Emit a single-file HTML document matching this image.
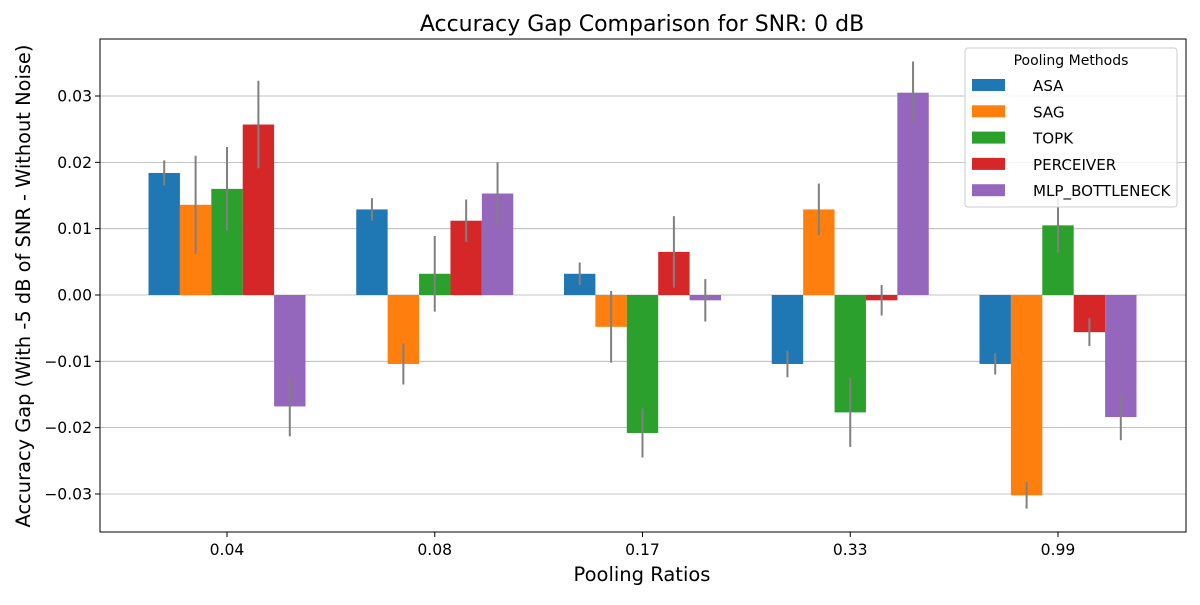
<!DOCTYPE html>
<html><head><meta charset="utf-8"><style>
body{margin:0;background:#fff;font-family:"Liberation Sans","DejaVu Sans",sans-serif}
svg text{font-family:"DejaVu Sans","Liberation Sans",sans-serif}
</style></head><body>
<svg id="c" width="1200" height="600" xmlns="http://www.w3.org/2000/svg"></svg>
<script>
const categories=["0.04","0.08","0.17","0.33","0.99"];
const seriesNames=["ASA","SAG","TOPK","PERCEIVER","MLP_BOTTLENECK"];
const asaVals=[0.0184,0.0129,0.0032,-0.0104,-0.0104];
const sagVals=[0.0136,-0.0104,-0.0048,0.0129,-0.0302];
const topkVals=[0.0160,0.0032,-0.0208,-0.0177,0.0105];
const percVals=[0.0257,0.0112,0.0065,-0.0008,-0.0056];
const mlpVals=[-0.0168,0.0153,-0.0008,0.0305,-0.0184];
const asaErr=[0.0019,0.0017,0.0017,0.0020,0.0016];
const sagErr=[0.0074,0.0031,0.0054,0.0039,0.0020];
const topkErr=[0.0063,0.0057,0.0037,0.0052,0.0041];
const percErr=[0.0066,0.0032,0.0054,0.0023,0.0021];
const mlpErr=[0.0045,0.0047,0.0032,0.0047,0.0035];
const yTicks=[-0.03,-0.02,-0.01,0,0.01,0.02,0.03];
const yTickLabels=["−0.03","−0.02","−0.01","0.00","0.01","0.02","0.03"];
const colors=["#1f77b4","#ff7f0e","#2ca02c","#d62728","#9467bd"];
const vals=[asaVals,sagVals,topkVals,percVals,mlpVals];
const errs=[asaErr,sagErr,topkErr,percErr,mlpErr];
const L=100,R=1186,T=39,B=532;
const y=v=>295-v*6633;
const x=i=>227+i*207.75;
const bw=31.4;
const svg=document.getElementById('c');
const NS="http://www.w3.org/2000/svg";
function mk(t,a,p){const e=document.createElementNS(NS,t);for(const k in a)e.setAttribute(k,a[k]);(p||svg).appendChild(e);return e;}
yTicks.forEach((t,i)=>{
 const g=mk('line',{x1:L,x2:R,y1:y(t),y2:y(t),stroke:'#b0b0b0','stroke-width':0.8});
 
 
 mk('line',{x1:L-5,x2:L,y1:y(t),y2:y(t),stroke:'#000'});
 const tx=mk('text',{x:L-8,y:y(t)+5.5,'text-anchor':'end','font-size':15.6});
 tx.textContent=yTickLabels[i];
 
 
});
vals.forEach((s,si)=>{s.forEach((v,ci)=>{
 const cx=x(ci)+(si-2)*bw;
 const r=mk('rect',{x:cx-bw/2,y:Math.min(y(v),y(0)),width:bw,height:Math.abs(y(v)-y(0)),fill:colors[si]});
 
 
});});
vals.forEach((s,si)=>{s.forEach((v,ci)=>{
 const cx=x(ci)+(si-2)*bw;
 const e=mk('line',{x1:cx,x2:cx,y1:y(v-errs[si][ci]),y2:y(v+errs[si][ci]),stroke:'#808080','stroke-width':2});
 
 
});});
categories.forEach((c,i)=>{
 mk('line',{x1:x(i),x2:x(i),y1:B,y2:B+5,stroke:'#000'});
 const t=mk('text',{x:x(i),y:B+23,'text-anchor':'middle','font-size':15.6});
 t.textContent=c;
 
 
});
const fr=mk('rect',{x:L,y:T,width:R-L,height:B-T,fill:'none',stroke:'#000','stroke-width':1});


let t=mk('text',{x:642,y:31,'text-anchor':'middle','font-size':22});t.textContent="Accuracy Gap Comparison for SNR: 0 dB";


t=mk('text',{x:642,y:581,'text-anchor':'middle','font-size':19.5});t.textContent="Pooling Ratios";


t=mk('text',{x:0,y:0,'text-anchor':'middle','font-size':19.4,transform:'translate(30,286) rotate(-90)'});t.textContent="Accuracy Gap (With -5 dB of SNR - Without Noise)";


const lg=mk('g',{});


mk('rect',{x:965,y:48,width:212,height:159,rx:3,fill:'#fff','fill-opacity':0.85,stroke:'#ccc'},lg);
t=mk('text',{x:1071,y:65,'text-anchor':'middle','font-size':14},lg);t.textContent="Pooling Methods";
seriesNames.forEach((n,i)=>{
 const yy=85+i*26.3;
 mk('rect',{x:972,y:yy-6,width:33,height:12,fill:colors[i]},lg);
 const tt=mk('text',{x:1033,y:yy+6,'font-size':15.1},lg);tt.textContent=n;
 
 
});
</script>
</body></html>
